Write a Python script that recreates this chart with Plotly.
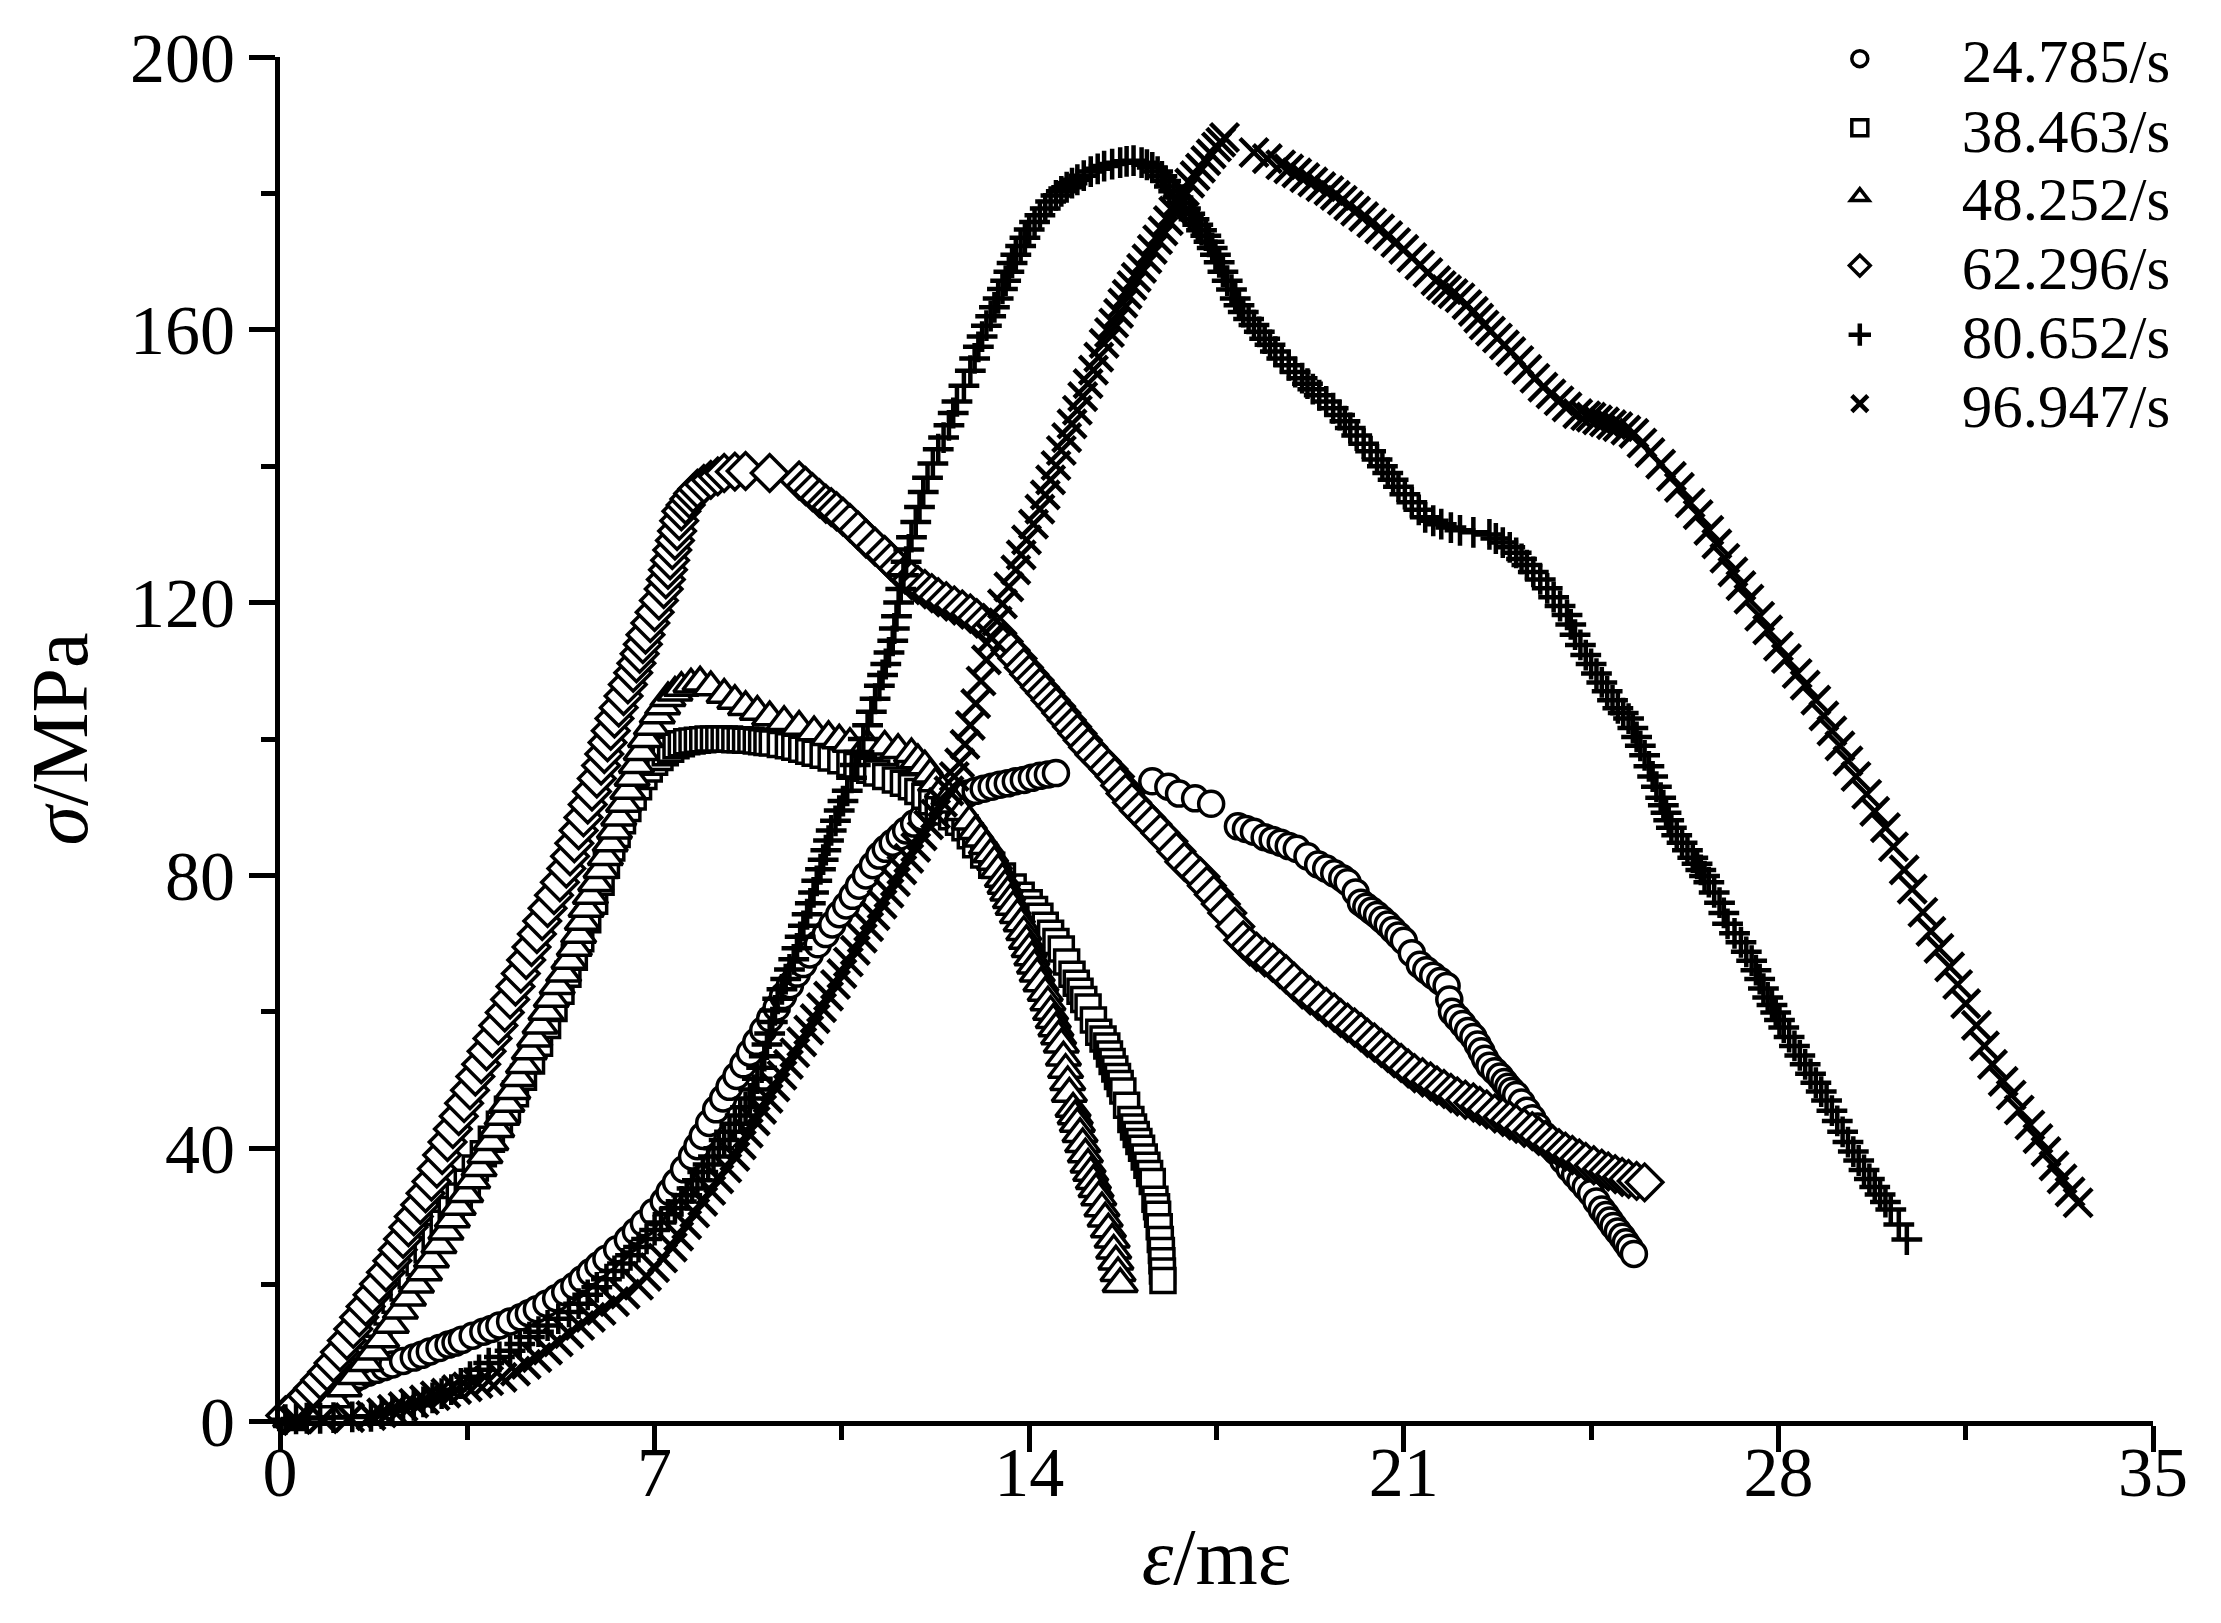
import plotly.graph_objects as go

# stress-strain points: (strain mε, stress MPa)
rate_labels = ["24.785/s", "38.463/s", "48.252/s", "62.296/s", "80.652/s", "96.947/s"]

pts_24785 = [
    (0.1, 0.5), (0.3, 1.5), (0.5, 2.7), (0.65, 3.4), (0.8, 4.0), (0.9, 4.5), (1.0, 4.9), (1.12, 5.2),
    (1.25, 5.6), (1.38, 6.1), (1.5, 6.6), (1.65, 7.1), (1.8, 7.5), (1.95, 7.9), (2.1, 8.3), (2.3, 8.8),
    (2.5, 9.3), (2.65, 9.7), (2.8, 10.2), (2.98, 10.7), (3.15, 11.2), (3.28, 11.5), (3.4, 11.9), (3.6, 12.5),
    (3.8, 13.1), (3.95, 13.5), (4.1, 14.0), (4.3, 14.6), (4.5, 15.2), (4.65, 15.8), (4.8, 16.4), (4.98, 17.2),
    (5.16, 18.0), (5.33, 18.9), (5.5, 19.8), (5.65, 20.8), (5.8, 21.8), (5.95, 22.8), (6.1, 23.8), (6.3, 25.2),
    (6.5, 26.6), (6.65, 27.8), (6.8, 29.0), (6.98, 30.6), (7.17, 32.2), (7.28, 33.6), (7.4, 35.0), (7.55, 36.9),
    (7.7, 38.8), (7.8, 40.3), (7.9, 41.8), (8.02, 43.7), (8.15, 45.7), (8.28, 47.3), (8.4, 49.0), (8.53, 50.6),
    (8.66, 52.3), (8.78, 54.0), (8.9, 55.6), (9.03, 57.3), (9.16, 59.0), (9.28, 60.6), (9.4, 62.3), (9.53, 63.9),
    (9.66, 65.6), (9.78, 67.0), (9.9, 68.4), (10.05, 69.9), (10.2, 71.4), (10.32, 72.8), (10.45, 74.3),
    (10.58, 75.6), (10.7, 77.0), (10.82, 78.5), (10.95, 80.0), (11.08, 81.5), (11.2, 82.9), (11.32, 83.9),
    (11.45, 84.8), (11.58, 85.7), (11.7, 86.6), (11.85, 87.6), (12.0, 88.5), (12.18, 89.4), (12.35, 90.3),
    (12.52, 91.0), (12.7, 91.6), (12.85, 92.0), (13.0, 92.4), (13.15, 92.7), (13.3, 93.0), (13.45, 93.3),
    (13.6, 93.5), (13.75, 93.8), (13.9, 94.0), (14.05, 94.3), (14.2, 94.6), (14.35, 94.8), (14.5, 95.0),
    (16.3, 93.8), (16.6, 93.0), (16.8, 92.0), (17.1, 91.3), (17.4, 90.5), (17.9, 87.2), (18.05, 86.8),
    (18.2, 86.4), (18.4, 85.6), (18.55, 85.2), (18.7, 84.8), (18.85, 84.3), (19.0, 83.9), (19.2, 82.8),
    (19.4, 81.6), (19.55, 81.0), (19.7, 80.3), (19.85, 79.6), (19.95, 79.0), (20.1, 77.5), (20.2, 76.0),
    (20.3, 75.4), (20.4, 74.8), (20.5, 74.2), (20.6, 73.5), (20.7, 72.8), (20.8, 72.0), (20.9, 71.2),
    (21.0, 70.4), (21.15, 68.6), (21.3, 66.9), (21.42, 66.1), (21.55, 65.3), (21.68, 64.5), (21.8, 63.8),
    (21.85, 61.8), (21.9, 60.0), (22.0, 59.1), (22.1, 58.2), (22.2, 57.2), (22.3, 56.3), (22.38, 55.2),
    (22.45, 54.2), (22.52, 53.1), (22.6, 52.1), (22.7, 51.3), (22.8, 50.5), (22.88, 49.7), (22.95, 49.0),
    (23.02, 48.4), (23.1, 47.8), (23.2, 46.7), (23.3, 45.5), (23.4, 44.4), (23.5, 43.2), (23.6, 42.0),
    (23.72, 40.7), (23.85, 39.5), (23.98, 38.2), (24.1, 37.0), (24.2, 36.1), (24.3, 35.2), (24.4, 34.3),
    (24.5, 33.4), (24.6, 32.2), (24.7, 31.0), (24.78, 30.2), (24.85, 29.4), (24.92, 28.6), (25.0, 27.8),
    (25.08, 27.0), (25.15, 26.2), (25.22, 25.4), (25.3, 24.5),
]

pts_38463 = [
    (0.2, 0.5), (0.5, 1.8), (0.65, 2.7), (0.8, 3.6), (0.95, 4.8), (1.1, 6.0), (1.25, 7.5), (1.4, 9.0),
    (1.55, 10.8), (1.7, 12.5), (1.85, 14.2), (2.0, 16.0), (2.15, 17.7), (2.3, 19.5), (2.45, 21.3), (2.6, 23.2),
    (2.75, 25.1), (2.9, 27.0), (3.05, 29.0), (3.2, 31.0), (3.35, 33.0), (3.5, 35.0), (3.65, 37.1), (3.8, 39.2),
    (3.95, 41.3), (4.1, 43.5), (4.25, 45.7), (4.4, 48.0), (4.55, 50.4), (4.7, 52.8), (4.85, 55.4), (5.0, 58.0),
    (5.12, 60.5), (5.25, 63.0), (5.38, 65.5), (5.5, 68.0), (5.62, 70.7), (5.75, 73.5), (5.88, 76.2), (6.0, 79.0),
    (6.1, 81.5), (6.2, 84.0), (6.3, 86.0), (6.4, 88.0), (6.5, 89.8), (6.6, 91.5), (6.7, 93.0), (6.8, 94.5),
    (6.9, 95.6), (7.0, 96.6), (7.1, 97.3), (7.2, 98.0), (7.3, 98.5), (7.4, 99.0), (7.5, 99.3), (7.6, 99.6),
    (7.7, 99.7), (7.8, 99.8), (7.9, 99.9), (8.0, 100.0), (8.1, 100.0), (8.2, 100.0), (8.3, 100.0), (8.4, 100.0),
    (8.5, 99.9), (8.6, 99.9), (8.7, 99.8), (8.8, 99.8), (8.9, 99.7), (9.0, 99.6), (9.1, 99.5), (9.2, 99.4),
    (9.35, 99.2), (9.5, 99.0), (9.62, 98.8), (9.75, 98.5), (9.88, 98.2), (10.0, 97.9), (10.15, 97.6),
    (10.3, 97.2), (10.48, 96.8), (10.65, 96.4), (10.78, 96.1), (10.9, 95.7), (11.02, 95.4), (11.15, 95.0),
    (11.32, 94.5), (11.5, 94.0), (11.65, 93.5), (11.8, 93.0), (11.92, 92.3), (12.05, 91.6), (12.18, 90.8),
    (12.3, 90.0), (12.42, 89.3), (12.55, 88.6), (12.68, 87.8), (12.8, 87.0), (12.9, 85.8), (13.0, 84.5),
    (13.15, 83.0), (13.3, 81.5), (13.5, 79.9), (13.7, 78.3), (13.85, 77.1), (14.0, 76.0), (14.1, 75.0),
    (14.2, 74.0), (14.3, 72.7), (14.4, 71.5), (14.5, 70.3), (14.6, 69.2), (14.7, 67.3), (14.8, 65.5),
    (14.88, 64.2), (14.95, 63.0), (15.02, 61.8), (15.1, 60.7), (15.2, 58.8), (15.3, 57.0), (15.38, 56.0),
    (15.45, 55.0), (15.5, 53.8), (15.55, 52.7), (15.6, 51.6), (15.65, 50.5), (15.7, 49.5), (15.75, 48.4),
    (15.82, 46.3), (15.9, 44.2), (15.95, 43.1), (16.0, 42.0), (16.05, 41.0), (16.1, 40.0), (16.15, 38.7),
    (16.2, 37.5), (16.25, 36.3), (16.3, 35.1), (16.35, 32.5), (16.38, 31.4), (16.4, 30.3), (16.43, 28.5),
    (16.45, 26.6), (16.47, 25.0), (16.48, 23.5), (16.49, 22.0), (16.5, 20.6),
]

pts_48252 = [
    (0.2, 0.3), (0.5, 0.8), (0.83, 1.7), (1.0, 3.2), (1.2, 4.8), (1.4, 6.6), (1.6, 8.5), (1.75, 10.2),
    (1.9, 12.0), (2.08, 14.1), (2.25, 16.2), (2.4, 18.1), (2.55, 20.0), (2.7, 21.8), (2.83, 23.7), (2.97, 25.8),
    (3.1, 27.8), (3.22, 29.6), (3.33, 31.4), (3.47, 33.3), (3.6, 35.3), (3.72, 37.1), (3.83, 39.0),
    (3.94, 40.9), (4.05, 42.8), (4.15, 44.6), (4.24, 46.5), (4.35, 48.4), (4.45, 50.3), (4.55, 52.2),
    (4.66, 54.2), (4.76, 56.1), (4.86, 58.0), (4.97, 60.0), (5.07, 61.9), (5.18, 63.8), (5.3, 65.6),
    (5.4, 67.5), (5.5, 69.4), (5.58, 71.3), (5.65, 73.2), (5.72, 75.1), (5.8, 77.0), (5.9, 78.9), (6.0, 80.8),
    (6.08, 82.7), (6.17, 84.7), (6.25, 86.6), (6.33, 88.5), (6.42, 90.5), (6.5, 92.4), (6.58, 94.3),
    (6.66, 96.2), (6.75, 98.1), (6.83, 100.0), (6.94, 101.8), (7.05, 103.5), (7.15, 104.8), (7.25, 106.0),
    (7.38, 106.8), (7.5, 107.5), (7.68, 108.0), (7.85, 108.3), (8.05, 107.6), (8.3, 106.5), (8.5, 105.6),
    (8.7, 104.7), (8.92, 104.0), (9.15, 103.2), (9.42, 102.5), (9.7, 101.8), (9.98, 101.0), (10.25, 100.3),
    (10.45, 99.8), (10.65, 99.3), (10.98, 99.1), (11.3, 98.9), (11.55, 98.4), (11.8, 97.8), (11.92, 96.9),
    (12.05, 96.0), (12.15, 94.8), (12.25, 93.5), (12.38, 92.5), (12.5, 91.5), (12.62, 90.4), (12.75, 89.3),
    (12.88, 87.9), (13.0, 86.5), (13.1, 85.4), (13.2, 84.3), (13.28, 83.1), (13.35, 82.0), (13.42, 80.8),
    (13.5, 79.5), (13.55, 78.5), (13.6, 77.5), (13.65, 76.4), (13.7, 75.4), (13.78, 74.2), (13.85, 73.0),
    (13.9, 71.7), (13.95, 70.4), (14.0, 69.2), (14.05, 68.0), (14.1, 66.8), (14.15, 65.6), (14.22, 64.2),
    (14.3, 62.8), (14.35, 61.4), (14.4, 60.0), (14.45, 58.8), (14.5, 57.6), (14.55, 56.4), (14.6, 55.2),
    (14.64, 53.3), (14.68, 51.5), (14.72, 49.7), (14.75, 48.0), (14.82, 45.8), (14.86, 44.7), (14.9, 43.6),
    (14.95, 42.1), (15.0, 40.6), (15.05, 39.1), (15.1, 37.6), (15.15, 36.4), (15.2, 35.2), (15.25, 34.0),
    (15.3, 32.8), (15.36, 31.2), (15.42, 29.7), (15.48, 28.1), (15.55, 26.6), (15.58, 25.0), (15.62, 23.4),
    (15.66, 21.7), (15.7, 20.1),
]

pts_62296 = [
    (0.1, 0.8), (0.3, 2.2), (0.5, 3.7), (0.62, 4.8), (0.75, 6.0), (0.88, 7.2), (1.0, 8.5), (1.12, 10.1),
    (1.25, 11.8), (1.37, 13.5), (1.48, 15.2), (1.6, 16.8), (1.73, 18.5), (1.85, 20.1), (1.98, 21.8),
    (2.1, 23.5), (2.2, 25.1), (2.3, 26.7), (2.4, 28.4), (2.5, 30.0), (2.62, 31.7), (2.72, 33.4), (2.83, 35.1),
    (2.93, 37.0), (3.03, 39.0), (3.13, 40.9), (3.23, 42.8), (3.34, 44.7), (3.44, 46.6), (3.55, 48.5),
    (3.65, 50.5), (3.76, 52.3), (3.86, 54.2), (3.97, 56.1), (4.08, 58.0), (4.2, 59.9), (4.3, 61.8),
    (4.4, 63.7), (4.5, 65.6), (4.6, 67.6), (4.7, 69.5), (4.8, 71.4), (4.9, 73.3), (5.0, 75.2), (5.12, 77.1),
    (5.23, 79.0), (5.35, 81.0), (5.42, 82.8), (5.5, 84.7), (5.58, 86.6), (5.67, 88.5), (5.75, 90.4),
    (5.83, 92.3), (5.92, 94.2), (6.0, 96.1), (6.06, 97.8), (6.12, 99.5), (6.18, 101.2), (6.25, 103.0),
    (6.33, 104.6), (6.42, 106.3), (6.5, 108.0), (6.6, 109.7), (6.66, 111.1), (6.72, 112.5), (6.78, 113.9),
    (6.83, 115.3), (6.92, 117.0), (7.0, 118.6), (7.08, 120.3), (7.17, 122.0), (7.21, 123.4), (7.25, 124.8),
    (7.29, 126.2), (7.33, 127.7), (7.38, 129.1), (7.42, 130.5), (7.46, 132.0), (7.5, 133.4), (7.58, 134.3),
    (7.65, 135.2), (7.72, 136.0), (7.8, 136.7), (7.92, 137.4), (8.05, 138.0), (8.18, 138.5), (8.3, 139.0),
    (8.5, 139.2), (8.7, 139.3), (9.15, 139.0), (9.7, 137.9), (9.82, 137.1), (9.95, 136.2), (10.08, 135.3),
    (10.2, 134.5), (10.3, 134.0), (10.4, 133.4), (10.52, 132.6), (10.65, 131.7), (10.8, 130.6),
    (10.95, 129.4), (11.12, 128.2), (11.3, 127.0), (11.42, 126.0), (11.55, 125.0), (11.68, 124.1),
    (11.8, 123.3), (11.92, 122.6), (12.05, 122.0), (12.18, 121.4), (12.3, 120.8), (12.45, 120.2),
    (12.6, 119.6), (12.75, 119.0), (12.9, 118.4), (13.02, 117.7), (13.15, 117.0), (13.28, 116.3),
    (13.4, 115.5), (13.52, 114.3), (13.65, 113.0), (13.78, 111.8), (13.9, 110.5), (14.0, 109.5),
    (14.1, 108.6), (14.2, 107.6), (14.3, 106.7), (14.4, 105.7), (14.5, 104.8), (14.6, 103.8), (14.7, 102.8),
    (14.8, 101.8), (14.9, 100.8), (15.0, 99.8), (15.1, 98.8), (15.22, 97.7), (15.35, 96.7), (15.48, 95.6),
    (15.6, 94.5), (15.7, 93.2), (15.8, 92.0), (15.92, 90.7), (16.05, 89.5), (16.18, 88.5), (16.3, 87.5),
    (16.45, 86.2), (16.6, 85.0), (16.75, 83.5), (16.9, 82.0), (17.05, 80.9), (17.2, 79.8), (17.32, 78.5),
    (17.45, 77.2), (17.58, 75.8), (17.7, 74.5), (17.85, 72.5), (18.0, 70.5), (18.12, 69.6), (18.25, 68.8),
    (18.4, 68.0), (18.55, 67.2), (18.68, 66.3), (18.8, 65.5), (18.95, 64.4), (19.1, 63.3), (19.25, 62.4),
    (19.4, 61.6), (19.55, 60.7), (19.7, 59.9), (19.82, 59.1), (19.95, 58.4), (20.08, 57.7), (20.2, 57.0),
    (20.32, 56.2), (20.45, 55.5), (20.58, 54.7), (20.7, 54.0), (20.82, 53.2), (20.95, 52.5), (21.08, 51.7),
    (21.2, 51.0), (21.35, 50.4), (21.5, 49.8), (21.62, 49.2), (21.75, 48.7), (21.88, 48.1), (22.0, 47.6),
    (22.15, 47.1), (22.3, 46.7), (22.42, 46.2), (22.55, 45.7), (22.7, 45.1), (22.85, 44.6), (22.98, 44.1),
    (23.1, 43.6), (23.25, 43.0), (23.4, 42.5), (23.52, 41.8), (23.65, 41.2), (23.78, 40.6), (23.9, 40.0),
    (24.02, 39.5), (24.15, 39.0), (24.28, 38.5), (24.4, 38.0), (24.55, 37.5), (24.7, 37.0), (24.82, 36.6),
    (24.95, 36.2), (25.08, 35.8), (25.2, 35.5), (25.35, 35.2), (25.5, 35.0),
]

pts_80652 = [
    (0.1, 0.2), (0.3, 0.3), (0.5, 0.4), (0.75, 0.4), (1.0, 0.5), (1.35, 0.6), (1.7, 0.7), (1.9, 1.1),
    (2.1, 1.5), (2.3, 1.9), (2.5, 2.3), (2.68, 2.8), (2.85, 3.4), (3.02, 4.0), (3.2, 4.6), (3.38, 5.5),
    (3.55, 6.5), (3.72, 7.5), (3.9, 8.5), (4.1, 9.4), (4.3, 10.3), (4.48, 11.3), (4.66, 12.3), (4.83, 13.1),
    (5.0, 14.0), (5.2, 15.0), (5.4, 16.0), (5.58, 17.2), (5.75, 18.5), (5.92, 19.6), (6.1, 20.8), (6.25, 22.0),
    (6.4, 23.1), (6.55, 24.3), (6.7, 25.5), (6.85, 26.7), (7.0, 28.0), (7.12, 29.1), (7.25, 30.3),
    (7.38, 31.2), (7.5, 32.2), (7.6, 33.1), (7.7, 34.1), (7.8, 35.3), (7.9, 36.5), (8.0, 37.6), (8.1, 38.8),
    (8.2, 40.0), (8.3, 41.2), (8.4, 42.4), (8.5, 43.6), (8.6, 44.8), (8.7, 46.0), (8.78, 47.3), (8.85, 48.6),
    (8.92, 50.2), (9.0, 51.8), (9.05, 53.5), (9.1, 55.2), (9.15, 56.8), (9.2, 58.5), (9.25, 60.2),
    (9.3, 61.9), (9.38, 63.3), (9.45, 64.8), (9.52, 66.2), (9.6, 67.7), (9.66, 69.3), (9.72, 71.0),
    (9.78, 72.6), (9.85, 74.3), (9.91, 75.9), (9.97, 77.5), (10.03, 79.2), (10.1, 80.9), (10.15, 82.3),
    (10.2, 83.7), (10.25, 85.1), (10.3, 86.6), (10.38, 88.0), (10.45, 89.5), (10.52, 90.9), (10.6, 92.4),
    (10.68, 94.3), (10.75, 96.2), (10.82, 98.1), (10.9, 100.0), (10.98, 102.0), (11.05, 104.0),
    (11.12, 105.9), (11.2, 107.8), (11.26, 109.4), (11.32, 111.0), (11.38, 112.7), (11.45, 114.4),
    (11.48, 116.2), (11.52, 118.0), (11.56, 120.0), (11.6, 122.0), (11.65, 124.0), (11.7, 126.0),
    (11.75, 127.8), (11.8, 129.6), (11.88, 131.8), (11.95, 134.0), (12.02, 136.2), (12.1, 138.3),
    (12.2, 140.4), (12.3, 142.5), (12.4, 144.2), (12.5, 146.0), (12.58, 147.8), (12.65, 149.5),
    (12.78, 151.8), (12.9, 154.0), (12.98, 155.8), (13.05, 157.5), (13.12, 159.0), (13.2, 160.6),
    (13.28, 162.0), (13.35, 163.3), (13.42, 164.6), (13.5, 166.0), (13.56, 167.2), (13.62, 168.5),
    (13.68, 169.8), (13.75, 171.0), (13.84, 172.3), (13.92, 173.5), (14.0, 174.7), (14.1, 175.8),
    (14.2, 176.8), (14.3, 177.8), (14.4, 178.8), (14.5, 179.7), (14.6, 180.3), (14.7, 180.9), (14.8, 181.5),
    (14.9, 182.0), (15.02, 182.6), (15.15, 183.2), (15.28, 183.6), (15.4, 184.0), (15.55, 184.3),
    (15.7, 184.5), (15.82, 184.7), (15.95, 184.8), (16.1, 184.5), (16.2, 184.2), (16.3, 183.8),
    (16.4, 183.2), (16.48, 182.5), (16.55, 181.8), (16.62, 181.0), (16.7, 180.3), (16.78, 179.4),
    (16.85, 178.6), (16.92, 177.8), (17.0, 177.0), (17.08, 176.2), (17.15, 175.4), (17.22, 174.6),
    (17.3, 173.8), (17.36, 172.9), (17.42, 172.0), (17.48, 171.0), (17.55, 169.9), (17.62, 168.5),
    (17.7, 167.2), (17.78, 165.9), (17.85, 164.6), (17.92, 163.6), (18.0, 162.6), (18.1, 161.6),
    (18.2, 160.7), (18.3, 159.7), (18.4, 158.7), (18.5, 157.8), (18.6, 156.8), (18.72, 155.8),
    (18.85, 154.8), (18.97, 153.8), (19.1, 152.9), (19.2, 152.1), (19.3, 151.3), (19.42, 150.4),
    (19.55, 149.5), (19.68, 148.5), (19.8, 147.5), (19.9, 146.6), (20.0, 145.6), (20.12, 144.5),
    (20.25, 143.3), (20.38, 142.2), (20.5, 141.0), (20.6, 140.0), (20.7, 139.0), (20.8, 138.0),
    (20.9, 137.0), (21.02, 135.9), (21.15, 134.7), (21.28, 133.6), (21.4, 132.5), (21.55, 132.0),
    (21.7, 131.5), (21.88, 131.0), (22.05, 130.6), (22.3, 130.3), (22.6, 130.0), (22.72, 129.4),
    (22.85, 128.8), (22.98, 128.1), (23.1, 127.3), (23.2, 126.4), (23.3, 125.5), (23.42, 124.5),
    (23.55, 123.4), (23.68, 122.1), (23.8, 120.8), (23.92, 119.5), (24.05, 118.2), (24.12, 116.8),
    (24.2, 115.3), (24.3, 113.8), (24.4, 112.3), (24.5, 111.0), (24.6, 109.6), (24.7, 108.3),
    (24.8, 107.0), (24.9, 105.7), (25.0, 104.5), (25.1, 103.8), (25.2, 103.0), (25.28, 101.6),
    (25.35, 100.3), (25.42, 99.0), (25.5, 97.6), (25.58, 96.0), (25.65, 94.5), (25.72, 93.0),
    (25.8, 91.4), (25.85, 90.3), (25.9, 89.2), (25.95, 88.1), (26.0, 87.0), (26.1, 85.9), (26.2, 84.8),
    (26.3, 83.7), (26.4, 82.6), (26.48, 81.7), (26.55, 80.8), (26.62, 79.9), (26.7, 79.0), (26.8, 77.5),
    (26.9, 76.0), (26.98, 74.5), (27.05, 72.9), (27.18, 71.5), (27.3, 70.2), (27.4, 68.8), (27.5, 67.5),
    (27.58, 66.1), (27.65, 64.8), (27.72, 63.4), (27.8, 62.1), (27.88, 61.0), (27.95, 59.9), (28.02, 58.8),
    (28.1, 57.7), (28.2, 56.3), (28.3, 55.0), (28.4, 53.6), (28.5, 52.3), (28.6, 50.9), (28.7, 49.6),
    (28.8, 48.3), (28.9, 47.0), (29.0, 45.5), (29.1, 44.0), (29.2, 42.4), (29.3, 40.9), (29.4, 39.5),
    (29.5, 38.2), (29.6, 36.8), (29.7, 35.5), (29.8, 34.3), (29.9, 33.2), (30.0, 32.1), (30.1, 31.0),
    (30.25, 28.8), (30.4, 26.6),
]

pts_96947 = [
    (0.3, 0.2), (0.8, 0.3), (1.3, 0.5), (1.7, 0.8), (1.9, 1.2), (2.1, 1.7), (2.3, 2.1), (2.5, 2.6),
    (2.7, 3.1), (2.9, 3.7), (3.1, 4.1), (3.3, 4.6), (3.5, 5.0), (3.7, 5.5), (3.9, 5.9), (4.15, 6.4),
    (4.4, 7.3), (4.6, 8.3), (4.8, 9.3), (5.0, 10.4), (5.2, 11.6), (5.4, 12.8), (5.6, 14.0), (5.8, 15.2),
    (6.0, 16.2), (6.25, 17.5), (6.45, 18.6), (6.7, 19.9), (6.85, 21.2), (7.0, 22.5), (7.15, 23.9),
    (7.33, 25.5), (7.45, 27.1), (7.6, 28.8), (7.75, 30.5), (7.9, 32.2), (8.05, 33.8), (8.2, 35.5),
    (8.35, 37.1), (8.5, 38.8), (8.62, 40.5), (8.75, 42.2), (8.88, 44.0), (9.0, 45.7), (9.12, 47.3),
    (9.25, 49.0), (9.38, 50.7), (9.5, 52.3), (9.62, 54.0), (9.75, 55.6), (9.88, 57.3), (10.0, 59.0),
    (10.12, 60.6), (10.25, 62.3), (10.38, 64.0), (10.5, 65.6), (10.62, 67.3), (10.75, 69.0), (10.88, 70.8),
    (11.0, 72.5), (11.12, 74.1), (11.25, 75.8), (11.38, 77.4), (11.5, 79.1), (11.62, 80.8), (11.75, 82.5),
    (11.88, 84.1), (12.0, 85.8), (12.12, 87.4), (12.25, 89.0), (12.38, 90.7), (12.5, 92.4), (12.6, 94.5),
    (12.7, 96.5), (12.8, 99.2), (12.9, 102.0), (13.0, 105.2), (13.1, 108.5), (13.2, 111.6), (13.3, 114.8),
    (13.4, 117.3), (13.5, 119.8), (13.62, 122.3), (13.75, 124.8), (13.85, 127.0), (13.95, 129.2),
    (14.08, 131.5), (14.2, 133.7), (14.3, 135.8), (14.4, 138.0), (14.5, 140.1), (14.6, 142.3),
    (14.7, 144.2), (14.8, 146.2), (14.9, 148.2), (15.0, 150.2), (15.1, 152.1), (15.2, 154.1), (15.3, 156.0),
    (15.4, 158.0), (15.5, 159.6), (15.58, 161.0), (15.67, 162.4), (15.75, 163.9), (15.83, 165.2),
    (15.92, 166.5), (16.0, 167.7), (16.1, 169.0), (16.2, 170.4), (16.3, 171.8), (16.4, 173.2),
    (16.5, 174.5), (16.6, 176.0), (16.7, 177.4), (16.8, 178.9), (16.9, 180.3), (17.0, 181.5),
    (17.1, 182.6), (17.2, 183.7), (17.3, 184.8), (17.4, 185.8), (17.5, 186.8), (17.58, 187.5),
    (17.65, 188.2), (18.2, 186.0), (18.45, 185.1), (18.7, 184.2), (18.85, 183.6), (19.0, 183.0),
    (19.15, 182.3), (19.3, 181.7), (19.45, 181.0), (19.6, 180.4), (19.72, 179.7), (19.85, 179.0),
    (19.97, 178.2), (20.1, 177.4), (20.25, 176.6), (20.4, 175.7), (20.55, 174.8), (20.7, 173.8),
    (20.85, 172.8), (21.0, 171.8), (21.15, 170.6), (21.3, 169.5), (21.45, 168.4), (21.6, 167.2),
    (21.7, 166.5), (21.8, 165.9), (21.92, 165.3), (22.05, 164.7), (22.18, 163.7), (22.3, 162.7),
    (22.4, 161.7), (22.5, 160.7), (22.62, 159.8), (22.75, 158.8), (22.88, 157.8), (23.0, 156.8),
    (23.15, 155.5), (23.3, 154.2), (23.45, 152.9), (23.6, 151.6), (23.75, 150.6), (23.9, 149.6),
    (24.05, 148.7), (24.25, 147.7), (24.4, 147.4), (24.5, 147.2), (24.62, 146.8), (24.75, 146.5),
    (24.88, 146.1), (25.0, 145.8), (25.15, 145.3), (25.3, 144.8), (25.45, 143.4), (25.6, 142.0),
    (25.8, 140.3), (26.0, 138.5), (26.15, 136.9), (26.35, 134.6), (26.5, 132.9), (26.7, 130.6),
    (26.85, 128.6), (27.0, 126.5), (27.15, 124.5), (27.3, 122.5), (27.45, 120.5), (27.65, 118.0),
    (27.8, 116.0), (28.0, 113.6), (28.15, 111.8), (28.35, 109.6), (28.5, 107.9), (28.7, 105.7),
    (28.85, 103.4), (29.0, 101.2), (29.15, 99.0), (29.3, 96.8), (29.45, 94.5), (29.65, 91.9),
    (29.8, 89.4), (30.0, 87.0), (30.15, 84.2), (30.35, 80.8), (30.5, 78.0), (30.7, 74.6), (30.85, 71.8),
    (31.0, 69.3), (31.2, 66.6), (31.35, 64.0), (31.5, 61.2), (31.7, 58.0), (31.85, 55.0), (32.0, 52.3),
    (32.2, 49.8), (32.35, 47.8), (32.5, 45.6), (32.7, 43.4), (32.85, 41.4), (33.0, 39.5), (33.15, 37.4),
    (33.3, 35.5), (33.45, 33.6), (33.6, 32.0),
]

series = [pts_24785, pts_38463, pts_48252, pts_62296, pts_80652, pts_96947]
symbols = ["circle", "square", "triangle-up", "diamond", "cross-thin", "x-thin"]
sizes = [25, 24, 30, 28, 22, 28]
line_widths = [3.5, 3.5, 3.5, 3.5, 4.5, 4.5]
legend_ids = ["legend", "legend2", "legend3", "legend4", "legend5", "legend6"]
legend_rows_y = [0.9985, 0.9479, 0.8974, 0.8468, 0.7962, 0.7456]

FONT = "Liberation Serif, Times New Roman, serif"

fig = go.Figure()

for pts, name, sym, sz, lw, lg in zip(series, rate_labels, symbols, sizes, line_widths, legend_ids):
    xs = [p[0] for p in pts]
    ys = [p[1] for p in pts]
    fig.add_trace(go.Scatter(
        x=xs,
        y=ys,
        mode='markers',
        name=name,
        legend=lg,
        showlegend=True,
        marker=dict(symbol=sym, size=sz, color='white',
                    line=dict(color='black', width=lw)),
        cliponaxis=False,
    ))

axis_common = dict(
    showline=True, linecolor='black', linewidth=5,
    ticks='outside', ticklen=26, tickwidth=5, tickcolor='black',
    showgrid=False, zeroline=False, mirror=False,
    tickfont=dict(family=FONT, size=70, color='black'),
)

fig.update_layout(
    width=2221,
    height=1623,
    margin=dict(l=280, r=68, t=57, b=202),
    plot_bgcolor='white',
    paper_bgcolor='white',
    showlegend=True,
    font=dict(family=FONT, color='black'),
    xaxis=dict(
        range=[0, 35], tick0=0, dtick=7, ticklabelstandoff=-40,
        minor=dict(dtick=3.5, ticks='outside', ticklen=14, tickwidth=5, tickcolor='black'),
        title=dict(text='<i>ε</i>/mε', font=dict(family=FONT, size=80), standoff=19),
        **axis_common),
    yaxis=dict(
        range=[0, 200], tick0=0, dtick=40,
        minor=dict(dtick=20, ticks='outside', ticklen=14, tickwidth=5, tickcolor='black'),
        title=dict(text='<i>σ</i>/MPa', font=dict(family=FONT, size=80), standoff=18),
        **axis_common),
)

for lg, yy in zip(legend_ids, legend_rows_y):
    fig.update_layout({lg: dict(
        x=0.789, xanchor='left', y=yy, yanchor='middle',
        bgcolor='rgba(0,0,0,0)', borderwidth=0,
        itemwidth=194,
        font=dict(family=FONT, size=61, color='black'),
    )})

fig.write_html("out.html", config={'displayModeBar': False},
               post_script="document.body.style.margin='0';")
